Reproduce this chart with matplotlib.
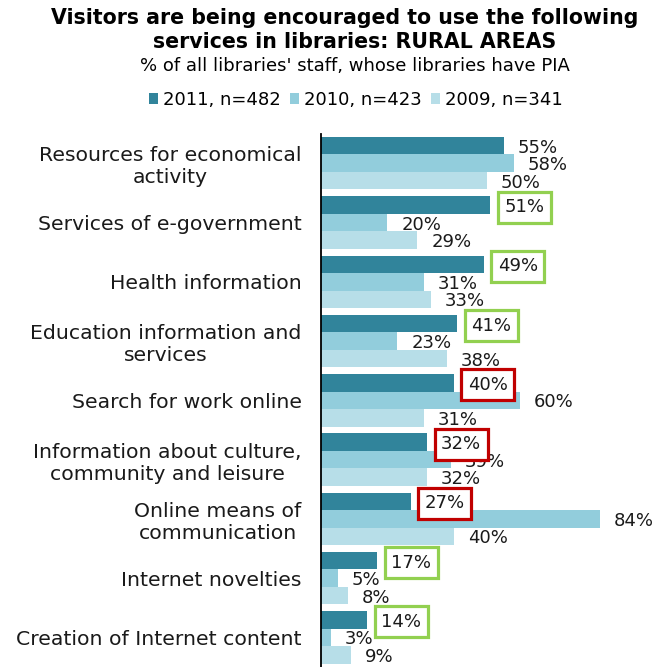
import matplotlib.pyplot as plt
from matplotlib.patches import Patch
import numpy as np

categories = ["Resources for economical\nactivity", "Services of e-government",
              "Health information", "Education information and\nservices",
              "Search for work online", "Information about culture,\ncommunity and leisure",
              "Online means of\ncommunication", "Internet novelties",
              "Creation of Internet content"]
v2011 = [55, 51, 49, 41, 40, 32, 27, 17, 14]
v2010 = [58, 20, 31, 23, 60, 39, 84, 5, 3]
v2009 = [50, 29, 33, 38, 31, 32, 40, 8, 9]
# box colour around the 2011 labels (None = no box)
box_2011 = [None, "green", "green", "green", "red", "red", "red", "green", "green"]
series_names = ["2011, n=482", "2010, n=423", "2009, n=341"]

colors = ["#31849B", "#92CDDC", "#B7DEE8"]
box_colors = {"green": "#92D050", "red": "#C00000"}

fig = plt.figure(figsize=(6.69, 6.67), dpi=100)
ax = fig.add_axes([321 / 669, 0.0, 1 - 321 / 669, 0.7997])

y = np.arange(len(categories))
h = 0.295
series = [v2011, v2010, v2009]
for k, vals in enumerate(series):
    ax.barh(y + (k - 1) * h, vals, height=h, color=colors[k], edgecolor="none")

# value labels; 2010/2009 go first so the 2011 boxes sit on top
for k in [2, 1, 0]:
    vals = series[k]
    for i, v in enumerate(vals):
        kw = {}
        if k == 0 and box_2011[i] is not None:
            kw["bbox"] = dict(boxstyle="square,pad=0.36", fc="white",
                              ec=box_colors[box_2011[i]], lw=2.3)
        ax.annotate(f"{v}%", (v, y[i] + (k - 1) * h), xytext=(10, -1.5),
                    textcoords="offset points", ha="left", va="center",
                    fontsize=13, color="#1a1a1a", zorder=5 - k, **kw)

ax.set_ylim(len(categories) - 0.5, -0.5)
ax.set_xlim(0, 104.8)
ax.set_yticks(y)
ax.set_yticklabels(categories, fontsize=14.7, multialignment="center", color="#1a1a1a")
ax.tick_params(axis="y", length=0, pad=14)
ax.set_xticks([])
for s in ["top", "right", "bottom"]:
    ax.spines[s].set_visible(False)
ax.spines["left"].set_linewidth(1.3)

fig.text(0.515, 1 - 18 / 667, "Visitors are being encouraged to use the following",
         ha="center", va="center", fontsize=14.8, fontweight="bold")
fig.text(0.53, 1 - 42 / 667, "services in libraries: RURAL AREAS",
         ha="center", va="center", fontsize=14.8, fontweight="bold")
fig.text(0.53, 1 - 66 / 667, "% of all libraries' staff, whose libraries have PIA",
         ha="center", va="center", fontsize=13)

handles = [Patch(facecolor=c, edgecolor="none") for c in colors]
fig.legend(handles, series_names, loc="center", bbox_to_anchor=(0.532, 1 - 100 / 667),
           ncol=3, frameon=False, fontsize=13, handlelength=0.5, handleheight=0.5,
           handletextpad=0.3, columnspacing=0.5)

fig.savefig("out.png", dpi=100)
